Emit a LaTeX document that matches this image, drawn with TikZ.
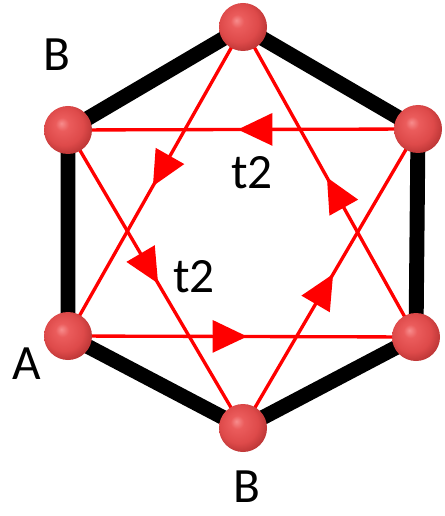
\documentclass[tikz,border=0pt]{standalone}
\usepackage{fontspec}
\setmainfont{Carlito}
\usetikzlibrary{arrows.meta,decorations.markings,backgrounds}
\pgfdeclareradialshading{redball}{\pgfpoint{-7bp}{7bp}}{rgb(0bp)=(0.97,0.55,0.55);
  rgb(7bp)=(0.92,0.36,0.36); rgb(20bp)=(0.87,0.29,0.29); rgb(30bp)=(0.72,0.2,0.2);
  rgb(50bp)=(0.62,0.15,0.15)}
\tikzset{
  atom/.style={circle,minimum size=48*0.75pt,inner sep=0pt,shading=redball},
  hop/.style={red,line width=2.5pt,postaction={decorate},
    decoration={markings,mark=at position #1 with {\arrow{Triangle[length=26pt,width=24pt]}}}},
  hop/.default=0.515,
  lbl/.style={font=\fontsize{37}{40}\selectfont,inner sep=0pt}
}
\begin{document}
\begin{tikzpicture}[x=0.75pt,y=-0.75pt]
 \useasboundingbox (0,0) rectangle (444,516);
 % lattice sites
 \node[atom] (T)  at (243,27)  {};
 \node[atom] (UR) at (418,129) {};
 \node[atom] (LR) at (416,337) {};
 \node[atom] (Bo) at (243,428) {};
 \node[atom] (LL) at (68,336)  {};
 \node[atom] (UL) at (68,130)  {};
 \begin{scope}[on background layer]
  \draw[line width=11.2pt] (T.center) -- (UR.center) -- (LR.center) -- (Bo.center)
     -- (LL.center) -- (UL.center) -- cycle;
  % second-neighbour hoppings
  \draw[hop] (UR.center) -- (UL.center);
  \draw[hop] (UL.center) -- (Bo.center);
  \draw[hop] (Bo.center) -- (UR.center);
  \draw[hop] (T.center) -- (LL.center);
  \draw[hop] (LL.center) -- (LR.center);
  \draw[hop] (LR.center) -- (T.center);
 \end{scope}
 \node[lbl] (t2a) at (252,173) {t2};
 \node[lbl] (t2b) at (194,277) {t2};
 \node[lbl] (lB1) at (57,55)   {B};
 \node[lbl] (lA)  at (27,364)  {A};
 \node[lbl] (lB2) at (247,487) {B};
\end{tikzpicture}
\end{document}
